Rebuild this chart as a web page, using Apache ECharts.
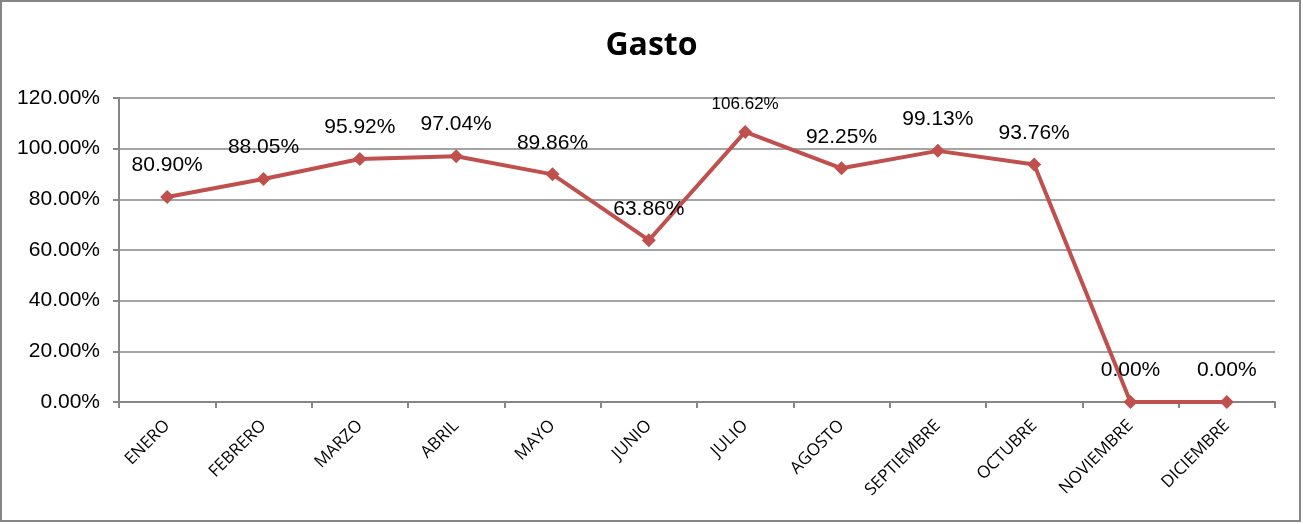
<!DOCTYPE html>
<html><head><meta charset="utf-8">
<script src="https://cdn.jsdelivr.net/npm/echarts@6/dist/echarts.min.js"></script>
<style>html,body{margin:0;padding:0;background:#fff}#c{width:1303px;height:524px}</style>
</head><body><div id="c"></div>
<script>
const categories = ['ENERO','FEBRERO','MARZO','ABRIL','MAYO','JUNIO','JULIO','AGOSTO','SEPTIEMBRE','OCTUBRE','NOVIEMBRE','DICIEMBRE'];
const gasto = [80.90, 88.05, 95.92, 97.04, 89.86, 63.86, 106.62, 92.25, 99.13, 93.76, 0.00, 0.00];
const yTicks = [0, 20, 40, 60, 80, 100, 120];

const chart = echarts.init(document.getElementById('c'));
const data = gasto.map((v, i) => {
  const d = { value: v };
  if (v > 100) d.label = { fontSize: 17, distance: 12 };
  return d;
});
chart.setOption({
  animation: false,
  graphic: [{ type: 'rect', shape: { x: 1, y: 1, width: 1299, height: 520 }, style: { fill: 'none', stroke: '#868686', lineWidth: 2 } }],
  title: { text: 'Gasto', left: 'center', top: 25, textStyle: { fontFamily: 'Open Sans', fontWeight: 'bold', fontSize: 32, color: '#000' } },
  grid: { left: 119, right: 28, top: 98, bottom: 122 },
  xAxis: {
    type: 'category', data: categories, boundaryGap: true,
    axisLine: { lineStyle: { color: '#868686', width: 2 } },
    axisTick: { show: true, length: 6, lineStyle: { color: '#868686', width: 2 } },
    axisLabel: { rotate: 45, margin: 21, fontFamily: 'Open Sans', fontSize: 17, color: '#000', interval: 0 }
  },
  yAxis: {
    type: 'value', min: yTicks[0], max: yTicks[yTicks.length - 1], interval: 20,
    axisLine: { show: true, lineStyle: { color: '#868686', width: 2 } },
    axisTick: { show: true, length: 6, lineStyle: { color: '#868686', width: 2 } },
    splitLine: { lineStyle: { color: '#868686', width: 1.5 } },
    axisLabel: { margin: 19, fontFamily: 'Liberation Sans', fontSize: 21, color: '#000', padding: [6, 0, 0, 0], formatter: v => v.toFixed(2) + '%' }
  },
  series: [{
    type: 'line', data: data,
    symbol: 'diamond', symbolSize: 14,
    lineStyle: { color: '#C0504D', width: 4 },
    itemStyle: { color: '#C0504D' },
    label: { show: true, position: 'top', distance: 14, fontFamily: 'Liberation Sans', fontSize: 21, color: '#000', formatter: p => p.value.toFixed(2) + '%' }
  }]
});
</script></body></html>
